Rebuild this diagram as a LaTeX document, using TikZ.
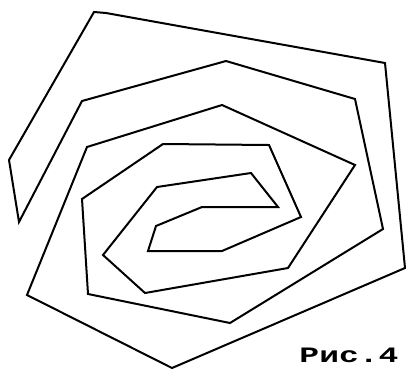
\documentclass[tikz,border=0pt]{standalone}
\usepackage{fontspec}
\newfontfamily\monofnt{Liberation Mono}
\begin{document}
\begin{tikzpicture}[x=1pt,y=-1pt,
  spiral/.style={line width=2pt,line join=miter,black},
  caption/.style={font=\monofnt\bfseries\fontsize{22}{22}\selectfont,anchor=base,inner sep=0pt,xscale=1.5}]
\useasboundingbox (0,0) rectangle (406,370);
\coordinate (p1) at (19,222);
\draw[spiral] (p1) -- (9,160) -- (94,12) -- (106,13) -- (385,63) -- (405,268)
  -- (172,368) -- (27,295) -- (87,147) -- (222,105) -- (355,165) -- (288,268)
  -- (145,293) -- (103,255) -- (157,187) -- (251,173) -- (278,207) -- (202,207)
  -- (156,226) -- (148,251) -- (222,251) -- (301,217) -- (269,145) -- (163,144)
  -- (82,199) -- (88,294) -- (230,323) -- (383,229) -- (355,99) -- (226,61)
  -- (82,101) -- cycle;
\node[caption] (cap) at (349,362) {Рис.4};
\end{tikzpicture}
\end{document}
